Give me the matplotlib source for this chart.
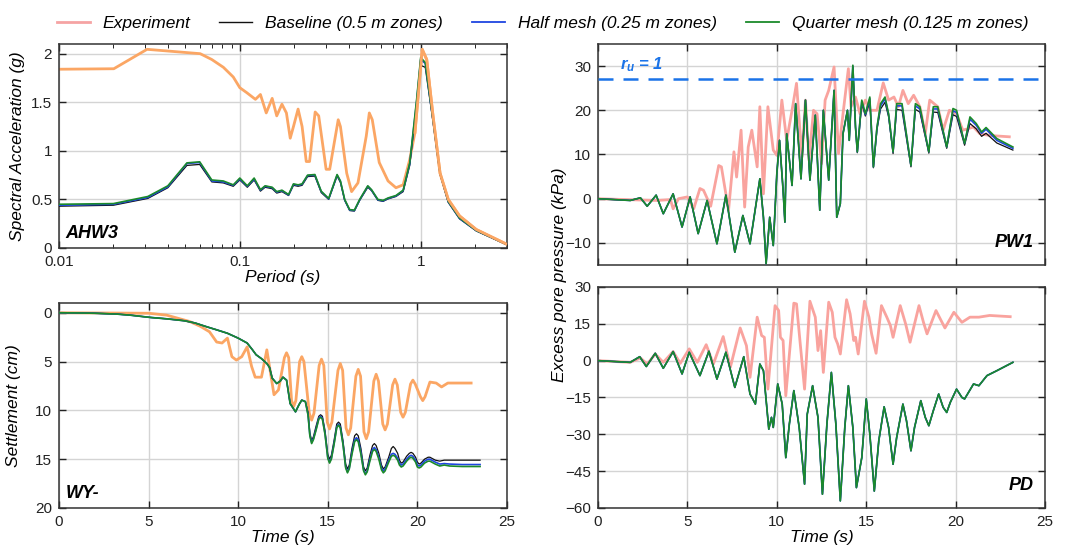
import numpy as np
import matplotlib
matplotlib.use("Agg")
import matplotlib.pyplot as plt
from matplotlib.lines import Line2D

plt.rcParams['font.family'] = ['Liberation Sans', 'DejaVu Sans']
plt.rcParams['mathtext.fontset'] = 'custom'
plt.rcParams['mathtext.it'] = 'Liberation Sans:italic:bold'
plt.rcParams['mathtext.rm'] = 'Liberation Sans:italic:bold'

# ---------------- data ----------------
# spectral acceleration, AHW3
sa_exp_T = [0.01, 0.0201, 0.0307, 0.0604, 0.070, 0.0811, 0.092, 0.1, 0.109, 0.122,
            0.13, 0.140, 0.151, 0.160, 0.171, 0.181, 0.190, 0.198, 0.210, 0.221,
            0.233, 0.243, 0.261, 0.273, 0.29, 0.30, 0.314, 0.35, 0.36, 0.39,
            0.415, 0.45, 0.50, 0.52, 0.54, 0.59, 0.66, 0.73, 0.80, 0.87,
            0.93, 1.02, 1.08, 1.17, 1.28, 1.42, 1.64, 2.03, 2.98]
sa_exp = [1.84, 1.845, 2.045, 2.0, 1.94, 1.86, 1.76, 1.65, 1.60, 1.53,
          1.58, 1.39, 1.54, 1.36, 1.48, 1.39, 1.13, 1.25, 1.43, 1.25,
          0.89, 0.89, 1.40, 1.36, 1.01, 0.81, 0.81, 1.32, 1.25, 0.77,
          0.58, 0.67, 1.15, 1.39, 1.32, 0.88, 0.69, 0.62, 0.65, 0.91,
          1.19, 2.045, 1.94, 1.36, 0.77, 0.50, 0.33, 0.19, 0.04]
sa_T = [0.01, 0.02, 0.031, 0.04, 0.051, 0.06, 0.07, 0.081, 0.092, 0.1,
        0.11, 0.12, 0.13, 0.138, 0.151, 0.16, 0.171, 0.186, 0.198, 0.21,
        0.221, 0.237, 0.26, 0.282, 0.31, 0.345, 0.36, 0.38, 0.405, 0.43,
        0.46, 0.51, 0.535, 0.58, 0.62, 0.66, 0.73, 0.8, 0.87, 0.95,
        1.0, 1.06, 1.17, 1.28, 1.42, 1.64, 2.03, 3.0]
sa_base = [0.43, 0.44, 0.51, 0.62, 0.85, 0.86, 0.68, 0.67, 0.635, 0.70,
           0.625, 0.70, 0.585, 0.625, 0.61, 0.565, 0.58, 0.54, 0.645, 0.635,
           0.645, 0.735, 0.74, 0.57, 0.50, 0.74, 0.675, 0.49, 0.385, 0.38,
           0.49, 0.625, 0.59, 0.49, 0.48, 0.505, 0.53, 0.58, 0.85, 1.48,
           1.88, 1.86, 1.30, 0.76, 0.47, 0.30, 0.175, 0.033]
sa_half = [0.44, 0.45, 0.52, 0.63, 0.87, 0.88, 0.69, 0.68, 0.645, 0.71,
           0.635, 0.71, 0.595, 0.635, 0.62, 0.575, 0.59, 0.545, 0.655, 0.645,
           0.655, 0.745, 0.75, 0.58, 0.505, 0.75, 0.685, 0.495, 0.39, 0.385,
           0.495, 0.635, 0.595, 0.495, 0.485, 0.51, 0.535, 0.59, 0.865, 1.51,
           1.94, 1.90, 1.31, 0.765, 0.475, 0.305, 0.178, 0.034]
sa_quarter = [0.45, 0.457, 0.53, 0.64, 0.876, 0.887, 0.70, 0.69, 0.65, 0.72,
              0.64, 0.72, 0.60, 0.64, 0.625, 0.58, 0.595, 0.55, 0.66, 0.65,
              0.66, 0.75, 0.756, 0.584, 0.51, 0.756, 0.69, 0.50, 0.395, 0.39,
              0.50, 0.64, 0.60, 0.50, 0.49, 0.515, 0.54, 0.595, 0.876, 1.53,
              1.96, 1.91, 1.32, 0.77, 0.48, 0.31, 0.18, 0.035]

# settlement, WY-
set_exp_t = [0, 5.0, 6.0, 7.3, 7.9, 8.4, 8.8, 9.1, 9.4, 9.65,
             9.9, 10.2, 10.5, 10.75, 10.95, 11.3, 11.6, 12.0, 12.25, 12.58,
             12.7, 12.82, 12.98, 13.1, 13.22, 13.43, 13.55, 13.67, 13.97, 14.1,
             14.23, 14.52, 14.65, 14.78, 14.97, 15.1, 15.23, 15.57, 15.7, 15.83,
             16.02, 16.15, 16.28, 16.57, 16.7, 16.83, 17.02, 17.15, 17.28, 17.57,
             17.7, 17.83, 18.07, 18.2, 18.33, 18.62, 18.75, 18.88, 19.07, 19.2,
             19.33, 19.62, 19.75, 19.88, 20.17, 20.3, 20.43, 20.7, 21.05, 21.35,
             21.7, 23.0]
set_exp = [0, 0.05, 0.24, 0.9, 1.4, 1.95, 3.0, 3.1, 2.6, 4.5,
           4.85, 4.5, 3.5, 5.5, 6.6, 6.6, 3.8, 8.4, 7.9, 4.6,
           4.1, 4.6, 9.0, 9.6, 9.0, 5.0, 4.5, 5.0, 10.3, 11.0,
           10.3, 5.4, 4.75, 5.4, 11.2, 11.9, 11.2, 5.9, 5.2, 5.9,
           11.8, 12.5, 11.8, 6.5, 5.8, 6.5, 12.2, 12.9, 12.2, 7.0,
           6.3, 7.0, 11.4, 12.0, 11.4, 7.4, 6.8, 7.4, 10.2, 10.7,
           10.2, 7.3, 6.9, 7.3, 8.6, 9.0, 8.6, 7.1, 7.2, 7.6,
           7.2, 7.2]
set_t = [0, 1, 2, 3.25, 4, 5.1, 6, 7.0, 7.6, 8.25, 8.8, 9.4, 10.0, 10.5, 10.8, 11.0,
         11.3, 11.6, 11.75, 11.9, 12.15, 12.35, 12.5, 12.7, 12.9, 13.2, 13.4, 13.55,
         13.75,
         13.9, 14.0, 14.1, 14.2, 14.35, 14.5, 14.6, 14.7, 14.85, 15.0,
         15.1, 15.2, 15.35, 15.5, 15.6, 15.7, 15.85, 16.0, 16.1, 16.2,
         16.35, 16.5, 16.6, 16.7, 16.85, 17.0, 17.1, 17.2, 17.35, 17.5,
         17.6, 17.7, 17.85, 18.0, 18.1, 18.2, 18.4, 18.55, 18.65, 18.75,
         18.9, 19.0, 19.1, 19.2, 19.4, 19.55, 19.65, 19.75, 19.9, 20.0,
         20.1, 20.2, 20.4, 20.6, 20.7, 20.8, 21.0, 21.25, 21.5, 21.8,
         22.5, 23.5]
set_head = [0, 0.02, 0.05, 0.14, 0.25, 0.48, 0.62, 0.82, 1.05, 1.44, 1.75, 2.1, 2.6,
            3.1, 3.8, 4.3, 4.7, 5.2, 5.6, 6.7, 7.25, 7.0, 6.6, 6.9, 9.3, 10.15, 9.4,
            8.95, 9.1]
set_tail_quarter = [10.5, 12.6, 13.4, 13.0, 12.0, 10.9, 10.7, 10.9, 12.5, 14.9,
                    15.4, 15.0, 13.5, 11.8, 11.5, 11.8, 13.5, 15.9, 16.4, 16.0,
                    14.5, 13.2, 13.0, 13.2, 14.5, 16.2, 16.6, 16.3, 15.2, 14.2,
                    14.0, 14.2, 15.0, 16.1, 16.4, 16.2, 15.3, 14.7, 14.6, 14.7,
                    15.1, 15.6, 15.8, 15.7, 15.2, 14.9, 14.8, 14.9, 15.3, 15.8,
                    15.9, 15.8, 15.4, 15.2, 15.2, 15.3, 15.5, 15.7, 15.6, 15.7,
                    15.75, 15.75]
set_tail_half = [10.4, 12.5, 13.3, 12.9, 11.9, 10.8, 10.6, 10.8, 12.4, 14.8,
                 15.3, 14.9, 13.4, 11.7, 11.4, 11.7, 13.4, 15.8, 16.3, 15.9,
                 14.3, 13.0, 12.8, 13.0, 14.3, 16.1, 16.5, 16.2, 15.0, 14.0,
                 13.8, 14.0, 14.8, 15.9, 16.2, 16.0, 15.1, 14.5, 14.4, 14.5,
                 14.9, 15.4, 15.6, 15.5, 15.0, 14.7, 14.6, 14.7, 15.1, 15.6,
                 15.7, 15.6, 15.2, 15.0, 15.0, 15.1, 15.3, 15.5, 15.45, 15.5,
                 15.55, 15.55]
set_tail_base = [10.2, 12.3, 13.1, 12.7, 11.6, 10.6, 10.45, 10.6, 12.1, 14.5,
                 15.0, 14.6, 13.1, 11.4, 11.2, 11.4, 13.1, 15.5, 16.0, 15.6,
                 13.9, 12.6, 12.4, 12.6, 13.9, 15.8, 16.2, 15.9, 14.6, 13.6,
                 13.4, 13.6, 14.4, 15.6, 16.0, 15.8, 14.8, 13.9, 13.7, 13.9,
                 14.4, 15.1, 15.4, 15.3, 14.7, 14.4, 14.3, 14.4, 14.8, 15.3,
                 15.5, 15.4, 15.0, 14.8, 14.8, 14.9, 15.1, 15.2, 15.1, 15.1,
                 15.1, 15.1]

# excess pore pressure, PW1
pw1_exp_t = [0, 2.37, 3.3, 4.05, 4.2, 4.5, 5.0, 5.35, 5.7, 5.9, 6.3, 6.75, 6.9, 7.3,
             7.6, 7.75, 8.0, 8.2, 8.4, 8.6, 8.9, 9.05, 9.25, 9.5, 9.8, 10.0, 10.28,
             10.55, 10.85, 11.1, 11.4, 11.6, 11.8, 12.05, 12.25, 12.5, 12.7, 12.9,
             13.2, 13.45, 13.7, 14.0, 14.15, 14.4, 14.65, 14.95, 15.2, 15.6, 15.95,
             16.25, 16.55, 16.8, 17.05, 17.35, 17.65, 18.0, 18.3, 18.55, 19.0, 19.3,
             19.65, 20.05, 20.4, 21.0, 21.35, 21.9, 23.0]
pw1_exp = [0, -0.3, -0.4, -0.2, -2.3, 0, 0.4, -2.3, 2.3, 1.9, -1.7, 7.5, 7.2, -2.6,
           10.6, 4.9, 15.5, -1.9, 11.7, 15.5, 7.2, 20.8, 1.1, 20.8, 11.0, 9.8, 22.3,
           13.2, 20.0, 26.1, 9.4, 22.3, 8.7, 20.0, 19.2, 7.9, 22.3, 24.5,
           29.8, 10.2, 19.2, 29.4, 20.8, 23.0, 19.2, 22.3, 20.0, 20.0, 26.2,
           22.3, 23.0, 20.8, 24.5, 21.5, 23.4, 20.8, 14.7, 22.3, 20.8, 15.5,
           20.0, 19.2, 15.5, 16.2, 14.7, 14.3, 14.0]
pw1_t = [0, 1.8, 2.37, 2.75, 3.25, 3.65, 4.2, 4.7, 5.15, 5.6, 6.1, 6.65, 7.15, 7.65,
         8.1, 8.5, 9.05, 9.25, 9.4, 9.6, 9.8, 10.0, 10.15, 10.35, 10.45, 10.55,
         10.85, 11.05, 11.2, 11.35, 11.6, 11.85, 12.15, 12.4, 12.6, 12.9, 13.2,
         13.35, 13.55, 13.7, 13.95, 14.05, 14.25, 14.4, 14.5, 14.75, 14.95, 15.2,
         15.4, 15.6, 15.8, 16.05, 16.25, 16.5, 16.7, 17.0, 17.5, 17.75, 18.0, 18.5,
         18.75, 19.0, 19.5, 19.85, 20.05, 20.5, 20.8, 21.15, 21.45, 21.7, 22.3, 23.2]
pw1_quarter = [0, -0.4, 0.2, -1.7, 0.8, -3.4, 1.1, -6.4, 0.4, -7.9, -0.4, -10.2, 0.8,
               -12.1, -3.8, -10.2, 4.5, -4.2, -14.7, -4.2, -10.6, 5.7, 13.2, 1.9, -5.3,
               14.7, 3.0, 21.5, 13.2, 4.5, 22.3, 4.2, 18.9, -2.6, 20.0, 4.2, 24.5,
               -4.2, -1.1, 14.7, 20.0, 13.2, 30.2, 16.2, 10.6, 22.3, 19.2, 23.0,
               7.2, 16.2, 21.5, 23.0, 19.2, 10.6, 21.5, 21.5, 7.5, 21.5, 20.8, 10.6,
               20.8, 20.8, 11.7, 20.4, 20.0, 12.5, 18.5, 17.0, 15.1, 16.1, 13.6, 11.7]
pw1_half = [0, -0.4, 0.2, -1.7, 0.8, -3.4, 1.1, -6.4, 0.4, -7.9, -0.4, -10.2, 0.8,
            -12.1, -3.8, -10.2, 4.5, -4.2, -14.7, -4.2, -10.6, 5.7, 13.2, 1.9, -5.3,
            14.7, 3.0, 21.5, 13.2, 4.5, 22.3, 4.2, 18.9, -2.6, 20.0, 4.2, 24.5,
            -4.2, -1.1, 14.7, 20.0, 13.2, 30.0, 16.2, 10.6, 22.0, 19.0, 22.6,
            7.2, 16.0, 21.0, 22.6, 19.0, 10.6, 21.0, 21.0, 7.5, 21.0, 20.3, 10.6,
            20.3, 20.3, 11.7, 19.9, 19.5, 12.5, 18.0, 16.6, 14.8, 15.7, 13.2, 11.4]
pw1_base = [0, -0.4, 0.2, -1.7, 0.8, -3.4, 1.1, -6.4, 0.4, -7.9, -0.4, -10.2, 0.8,
            -12.1, -3.8, -10.2, 4.5, -4.2, -14.7, -4.2, -10.6, 5.7, 13.2, 1.9, -5.3,
            14.7, 3.0, 21.5, 13.2, 4.5, 22.3, 4.2, 18.9, -2.6, 20.0, 4.2, 24.5,
            -4.2, -1.1, 14.7, 20.0, 13.2, 29.8, 16.0, 10.4, 21.6, 18.7, 22.0,
            7.0, 15.6, 20.3, 21.8, 18.5, 10.2, 20.2, 20.0, 7.2, 20.2, 19.6, 10.3,
            19.6, 19.5, 11.4, 19.0, 18.6, 12.1, 17.0, 15.8, 14.1, 14.8, 12.6, 11.0]

# excess pore pressure, PD
pd_exp_t = [0, 1.8, 2.37, 2.75, 3.2, 3.65, 4.2, 4.6, 5.1, 5.55, 6.05, 6.45, 7.0, 7.4,
            7.95, 8.3, 8.5, 8.9, 9.15, 9.3, 9.5, 9.9, 10.1, 10.2, 10.35, 10.5, 10.95,
            11.1, 11.3, 11.55, 11.85, 12.15, 12.3, 12.45, 12.6, 12.9, 13.1, 13.25,
            13.4, 13.55, 13.9, 14.1, 14.3, 14.4, 14.55, 14.9, 15.15, 15.3, 15.55,
            15.85, 16.15, 16.35, 16.5, 16.9, 17.2, 17.45, 17.95, 18.2, 18.4, 18.9,
            19.4, 19.9, 20.35, 20.8, 21.3, 21.9, 23.05]
pd_exp = [0, -0.7, 1.1, -1.4, 2.7, -0.7, 3.7, -1.1, 4.8, -0.7, 6.5, -1.4, 9.8, -2.7,
          13.3, 6.1, -6.8, 17.7, 10.2, 9.5, -11.6, 22.4, 20.4, 9.5, 8.2, -14.3, 23.4,
          23.1, 7.5, -11.6, 24.2, 17.7, 4.1, 12.2, -4.8, 23.8, 19.7, 9.5,
          6.8, 2.7, 24.8, 19.0, 8.2, 9.5, 2.7, 24.2, 17.7, 10.9, 3.0,
          22.4, 17.7, 14.3, 9.5, 22.4, 15.0, 7.5, 22.4, 15.6, 10.9, 20.4,
          13.3, 19.7, 15.6, 17.7, 17.7, 18.4, 17.9]
pd_t = [0, 1.8, 2.33, 2.7, 3.2, 3.65, 4.2, 4.7, 5.1, 5.7, 6.2, 6.65, 7.15, 7.65, 8.15,
        8.5, 8.65, 8.8, 9.05, 9.25, 9.55, 9.7, 9.8, 10.05, 10.3, 10.5, 10.7, 10.95,
        11.25, 11.55, 11.7, 12.0, 12.3, 12.55, 12.8, 13.05, 13.3, 13.55, 13.8, 14.0,
        14.25, 14.45, 14.75, 15.0, 15.2, 15.45, 15.7, 16.0, 16.25, 16.5, 16.7, 17.05,
        17.25, 17.5, 17.7, 18.05, 18.3, 18.5, 18.75, 19.05, 19.3, 19.5, 19.7, 20.05,
        20.35, 20.5, 21.0, 21.3, 21.75, 22.3, 23.2]
pd_sim = [0, -0.7, 1.6, -2.4, 3.0, -3.1, 3.7, -5.4, 3.4, -6.1, 3.8, -7.5, 3.4, -10.9,
          1.6, -13.6, -15.6, -17.7, -1.4, -4.1, -27.9, -23.1, -27.2, -9.5, -17.7,
          -39.5, -25.8, -12.2, -27.2, -50.3, -21.8, -10.2, -23.1, -54.4, -25.8, -4.8,
          -25.8, -57.1, -27.2, -10.2, -27.2, -51.7, -39.5, -15.6, -29.9, -53.1,
          -32.7, -18.8, -27.2, -42.2, -31.3, -17.7, -24.5, -36.7, -27.2, -16.3,
          -23.1, -26.5, -20.4, -13.6, -19.0, -21.1, -17.0, -11.6, -15.0, -15.6,
          -9.5, -10.2, -6.1, -4.1, -0.7]

# ---------------- styling ----------------
c_exp_leg = '#f5a3a3'
c_exp_or = '#fba664'
c_exp_pk = '#f9a39e'
c_base = '#111111'
c_half = '#1f45e0'
c_quarter = '#1b8a2b'
c_ru = '#1a73e8'

fig = plt.figure(figsize=(10.7, 5.49), dpi=100)
ax_sa = fig.add_axes([0.0551, 0.5483, 0.4187, 0.3716])
ax_set = fig.add_axes([0.0551, 0.0747, 0.4187, 0.3734])
ax_pw = fig.add_axes([0.5589, 0.5173, 0.4178, 0.4026])
ax_pd = fig.add_axes([0.5589, 0.0747, 0.4178, 0.4026])


def style(ax):
    ax.grid(True, color='#d4d4d4', lw=1.0, zorder=0)
    ax.set_axisbelow(True)
    ax.tick_params(direction='in', top=True, right=True, labelsize=11,
                   length=5, width=1, colors='#222222', pad=5)
    ax.tick_params(which='minor', direction='in', top=True, right=True, length=3)
    for s in ax.spines.values():
        s.set_color('#333333')
        s.set_linewidth(1.1)


def sims(ax, x, b, h, q):
    ax.plot(x, b, color=c_base, lw=0.9, zorder=3)
    ax.plot(x, h, color=c_half, lw=1.2, zorder=4)
    ax.plot(x, q, color=c_quarter, lw=1.2, zorder=5)


lab = dict(fontsize=12.5, style='italic')
tag = dict(fontsize=13, style='italic', fontweight='bold')

# spectral acceleration
ax_sa.plot(sa_exp_T, sa_exp, color=c_exp_or, lw=2.0, zorder=2)
sims(ax_sa, sa_T, sa_base, sa_half, sa_quarter)
ax_sa.plot(sa_exp_T[40:], sa_exp[40:], color=c_exp_or, lw=2.0, zorder=6)
ax_sa.set_xscale('log')
ax_sa.set_xlim(0.01, 3)
ax_sa.set_ylim(0, 2.1)
ax_sa.set_xticks([0.01, 0.1, 1])
ax_sa.set_xticklabels(['0.01', '0.1', '1'])
ax_sa.set_yticks([0, 0.5, 1, 1.5, 2])
ax_sa.set_yticklabels(['0', '0.5', '1', '1.5', '2'])
ax_sa.set_xlabel('Period (s)', labelpad=1, **lab)
ax_sa.set_ylabel('Spectral Acceleration (g)', labelpad=4, **lab)
style(ax_sa)
ax_sa.text(0.014, 0.05, 'AHW3', transform=ax_sa.transAxes, **tag)

# settlement
ax_set.plot(set_exp_t, set_exp, color=c_exp_or, lw=2.0, zorder=2)
sims(ax_set, set_t, set_head + set_tail_base, set_head + set_tail_half,
     set_head + set_tail_quarter)
ax_set.set_xlim(0, 25)
ax_set.set_ylim(20, -1)
ax_set.set_yticks([0, 5, 10, 15, 20])
ax_set.set_xticks([0, 5, 10, 15, 20, 25])
ax_set.set_xlabel('Time (s)', labelpad=1, **lab)
ax_set.set_ylabel('Settlement (cm)', labelpad=10, **lab)
style(ax_set)
ax_set.text(0.014, 0.05, 'WY-', transform=ax_set.transAxes, **tag)

# PW1
ax_pw.plot(pw1_exp_t, pw1_exp, color=c_exp_pk, lw=2.0, zorder=2)
sims(ax_pw, pw1_t, pw1_base, pw1_half, pw1_quarter)
ax_pw.axhline(27, color=c_ru, lw=1.8, dashes=(6, 4), zorder=6)
ax_pw.text(1.25, 29.2, r'$r_u$ = 1', color=c_ru, fontsize=12, style='italic',
           fontweight='bold', zorder=7)
ax_pw.set_xlim(0, 25)
ax_pw.set_ylim(-15, 35)
ax_pw.set_yticks([-10, 0, 10, 20, 30])
ax_pw.set_xticks([0, 5, 10, 15, 20, 25])
ax_pw.tick_params(labelbottom=False)
style(ax_pw)
ax_pw.text(0.975, 0.08, 'PW1', transform=ax_pw.transAxes, ha='right', **tag)

# PD
ax_pd.plot(pd_exp_t, pd_exp, color=c_exp_pk, lw=2.0, zorder=2)
sims(ax_pd, pd_t, pd_sim, pd_sim, pd_sim)
ax_pd.set_xlim(0, 25)
ax_pd.set_ylim(-60, 30)
ax_pd.set_yticks([-60, -45, -30, -15, 0, 15, 30])
ax_pd.set_xticks([0, 5, 10, 15, 20, 25])
ax_pd.set_xlabel('Time (s)', labelpad=1, **lab)
style(ax_pd)
ax_pd.text(0.975, 0.08, 'PD', transform=ax_pd.transAxes, ha='right', **tag)

fig.text(0.523, 0.50, 'Excess pore pressure (kPa)', rotation=90,
         ha='center', va='center', **lab)

handles = [Line2D([], [], color=c_exp_leg, lw=2.0),
           Line2D([], [], color=c_base, lw=1.0),
           Line2D([], [], color=c_half, lw=1.3),
           Line2D([], [], color=c_quarter, lw=1.3)]
labels = ['Experiment', 'Baseline (0.5 m zones)', 'Half mesh (0.25 m zones)',
          'Quarter mesh (0.125 m zones)']
fig.legend(handles, labels, loc='center', bbox_to_anchor=(0.507, 0.958), ncol=4,
           frameon=False, handlelength=1.9, columnspacing=1.65, handletextpad=0.75,
           prop={'size': 12.5, 'style': 'italic'})

fig.savefig('out.png', dpi=100)
